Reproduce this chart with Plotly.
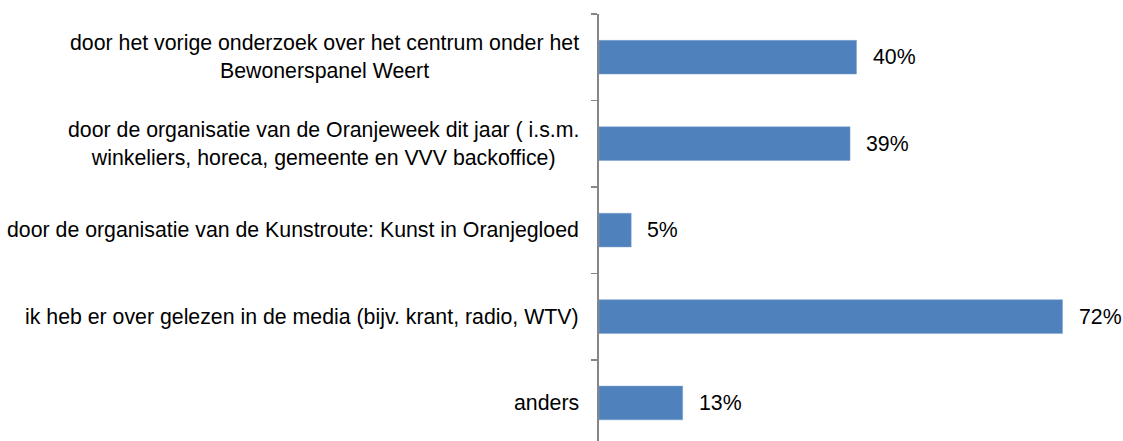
import plotly.graph_objects as go

categories = [
    "door het vorige onderzoek over het centrum onder het<br>Bewonerspanel Weert",
    "door de organisatie van de Oranjeweek dit jaar ( i.s.m.<br>winkeliers, horeca, gemeente en VVV backoffice)",
    "door de organisatie van de Kunstroute: Kunst in Oranjegloed",
    "ik heb er over gelezen in de media (bijv. krant, radio, WTV)",
    "anders",
]
values = [0.40, 0.39, 0.05, 0.72, 0.13]
value_labels = ["40%", "39%", "5%", "72%", "13%"]

FONT = "Liberation Sans, Arial, sans-serif"
FS = 21.3

fig = go.Figure(
    go.Bar(
        x=values,
        y=list(range(len(categories))),
        orientation="h",
        width=0.39,
        marker=dict(color="#4F81BD", line=dict(color="#7FA1CC", width=0.5)),
        hoverinfo="skip",
    )
)

annotations = []
for i, (c, v, t) in enumerate(zip(categories, values, value_labels)):
    annotations.append(dict(
        x=0, xref="paper", y=i, yref="y", text=c, showarrow=False,
        xanchor="right", yanchor="middle", align="center", xshift=-18,
        font=dict(family=FONT, size=FS, color="#000000"),
    ))
    annotations.append(dict(
        x=v, xref="x", y=i, yref="y", text=t, showarrow=False,
        xanchor="left", yanchor="middle", xshift=14,
        font=dict(family=FONT, size=FS, color="#000000"),
    ))

fig.update_layout(
    width=1123, height=441,
    margin=dict(l=599, r=9, t=14, b=0),
    paper_bgcolor="white", plot_bgcolor="white",
    showlegend=False,
    hovermode=False,
    font=dict(family=FONT, size=FS, color="#000000"),
    xaxis=dict(range=[0, 0.8], visible=False, fixedrange=True),
    yaxis=dict(
        range=[4.44, -0.5],
        tickmode="array",
        tickvals=[-0.5, 0.5, 1.5, 2.5, 3.5, 4.5],
        ticktext=["", "", "", "", "", ""],
        ticks="outside", ticklen=6, tickwidth=1.5, tickcolor="#868686",
        showline=True, linecolor="#868686", linewidth=2,
        showgrid=False, zeroline=False, showticklabels=False,
        fixedrange=True,
    ),
    annotations=annotations,
)

fig.write_html(
    "out.html",
    config={"displayModeBar": False, "staticPlot": True},
    post_script="document.body.style.margin='0';document.body.style.overflow='hidden';",
)
